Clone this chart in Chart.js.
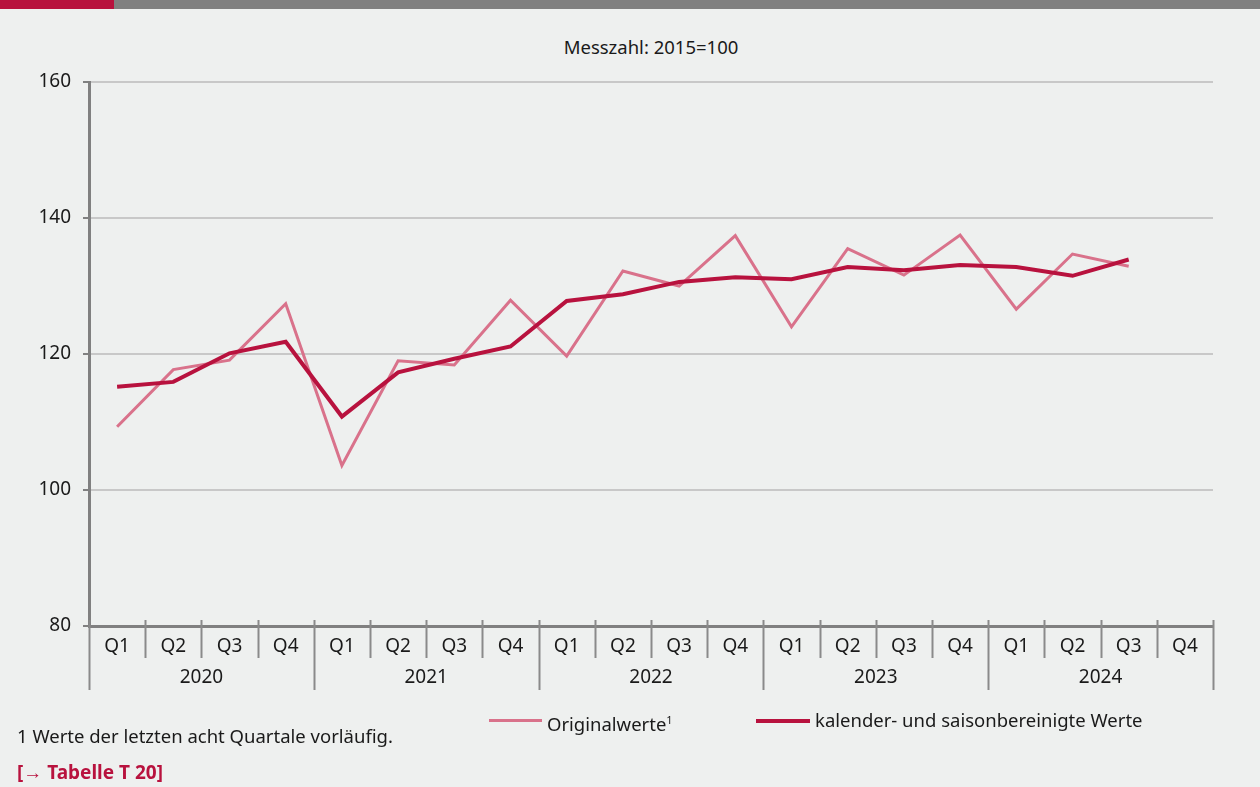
<!DOCTYPE html>
<html>
<head>
<meta charset="utf-8">
<script src="https://cdn.jsdelivr.net/npm/chart.js"></script>
<style>
  body { margin: 0; background: #eef0ef; font-family: "Noto Sans", sans-serif; color: #1a1a1a; }
  #wrap { position: relative; width: 1260px; height: 787px; overflow: hidden; }
  #bar1 { position: absolute; left: 0; top: 0; width: 114px; height: 9px; background: #b8123e; }
  #bar2 { position: absolute; left: 114px; top: 0; width: 1146px; height: 9px; background: #808080; }
  #titel { position: absolute; left: 451px; width: 400px; top: 34px; text-align: center; font-size: 18.5px; }
  canvas { position: absolute; left: 0; top: 0; }
  .leg { position: absolute; top: 707px; font-size: 18.5px; line-height: 26px; }
  .strich { position: absolute; }
  #fuss { position: absolute; left: 17px; top: 723px; font-size: 18.5px; }
  #tab { position: absolute; left: 17px; top: 759px; font-size: 19px; font-weight: bold; color: #b8123e; }
</style>
</head>
<body>
<div id="wrap">
  <div id="bar1"></div><div id="bar2"></div>
  <div id="titel">Messzahl: 2015=100</div>
  <canvas id="grafik" width="1260" height="787"></canvas>
  <div class="strich" style="left:489px; top:719px; width:53px; height:3px; background:#d9728b;"></div>
  <div class="leg" style="left:547px;">Originalwerte<sup style="font-size:11px;">1</sup></div>
  <div class="strich" style="left:756px; top:719px; width:54px; height:4px; background:#b8123e;"></div>
  <div class="leg" style="left:815px;">kalender- und saisonbereinigte Werte</div>
  <div id="fuss">1 Werte der letzten acht Quartale vorläufig.</div>
  <div id="tab">[→ Tabelle T 20]</div>
</div>
<script>
var jahre = ['2020', '2021', '2022', '2023', '2024'];
var quartale = ['Q1','Q2','Q3','Q4','Q1','Q2','Q3','Q4','Q1','Q2','Q3','Q4','Q1','Q2','Q3','Q4','Q1','Q2','Q3','Q4'];
var originalwerte = [109.3, 117.7, 119.1, 127.4, 103.6, 119.0, 118.4, 127.9, 119.7, 132.2, 130.0, 137.4, 124.0, 135.5, 131.6, 137.5, 126.6, 134.7, 132.9, null];
var bereinigt = [115.2, 115.9, 120.1, 121.8, 110.8, 117.3, 119.3, 121.1, 127.8, 128.8, 130.6, 131.3, 131.0, 132.8, 132.3, 133.1, 132.8, 131.5, 133.9, null];
var yTicks = [80, 100, 120, 140, 160];

// Trennstriche unter der x-Achse (Quartale kurz, Jahre lang)
var trenner = {
    id: 'trenner',
    afterDraw: function(chart) {
        var ctx = chart.ctx;
        var x = chart.scales.x;
        var breite = x.width / quartale.length;
        ctx.save();
        ctx.strokeStyle = '#8a8a8a';
        ctx.lineWidth = 2;
        for (var i = 0; i <= quartale.length; i++) {
            var px = Math.round(x.left + i * breite) + 0.5;
            ctx.beginPath();
            ctx.moveTo(px, x.top - 6);
            ctx.lineTo(px, i % 4 === 0 ? x.top + 64 : x.top + 32);
            ctx.stroke();
        }
        ctx.restore();
    }
};

var schrift = { family: '"Noto Sans", sans-serif', size: 19 };

new Chart(document.getElementById('grafik'), {
    type: 'line',
    data: {
        labels: quartale,
        datasets: [{
            label: 'kalender- und saisonbereinigte Werte',
            data: bereinigt,
            borderColor: '#b8123e',
            borderWidth: 4,
            pointRadius: 0,
            tension: 0,
            order: 1
        }, {
            label: 'Originalwerte',
            data: originalwerte,
            borderColor: '#d9728b',
            borderWidth: 3,
            pointRadius: 0,
            tension: 0,
            order: 2
        }]
    },
    options: {
        responsive: false,
        animation: false,
        layout: { padding: { top: 82, right: 47, bottom: 95, left: 0 } },
        plugins: { legend: { display: false }, title: { display: false }, tooltip: { enabled: false } },
        scales: {
            x: {
                type: 'category',
                offset: true,
                grid: { display: false, drawTicks: false },
                border: { display: true, color: '#808080', width: 3 },
                ticks: { autoSkip: false, maxRotation: 0, padding: 9, color: '#1a1a1a', font: schrift },
                afterFit: function(s) { s.height = 34; }
            },
            jahr: {
                type: 'category',
                labels: jahre,
                position: 'bottom',
                offset: true,
                grid: { display: false, drawTicks: false },
                border: { display: false },
                ticks: { autoSkip: false, maxRotation: 0, padding: 6, color: '#1a1a1a', font: schrift },
                afterFit: function(s) { s.height = 32; }
            },
            y: {
                min: 80,
                max: 160,
                afterBuildTicks: function(s) { s.ticks = yTicks.map(function(v) { return { value: v }; }); },
                grid: {
                    color: function(c) { return c.tick && c.tick.value === 80 ? 'rgba(0,0,0,0)' : '#c8c8c8'; },
                    lineWidth: 2,
                    tickColor: '#808080',
                    tickLength: 6,
                    tickWidth: 2
                },
                border: { display: true, color: '#808080', width: 3 },
                ticks: { padding: 12, color: '#1a1a1a', font: schrift },
                afterFit: function(s) { s.width = 89; }
            }
        }
    },
    plugins: [trenner]
});
</script>
</body>
</html>
